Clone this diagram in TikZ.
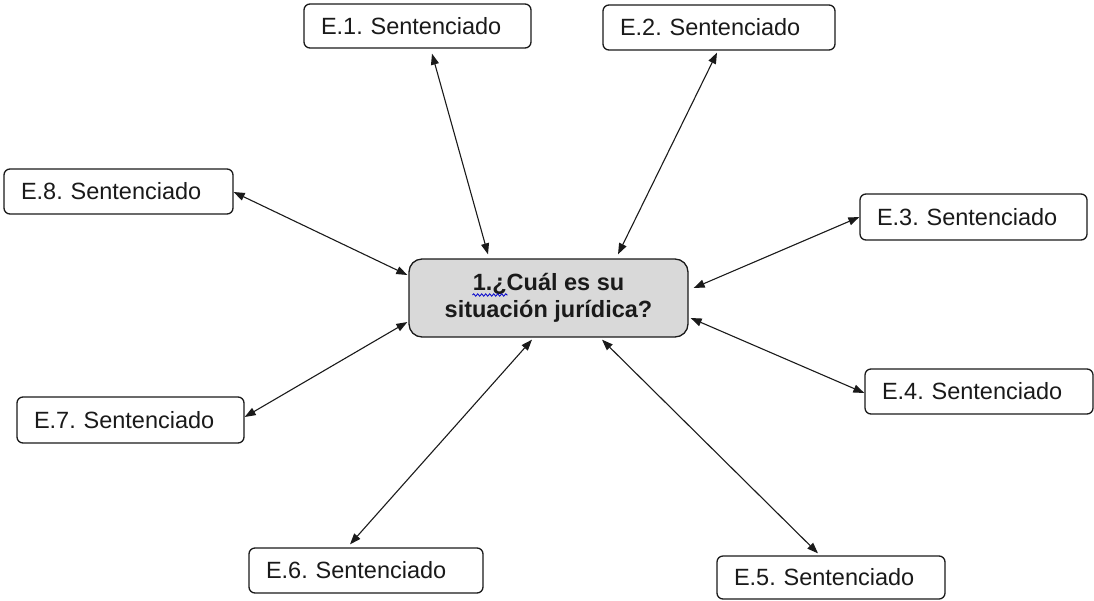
\documentclass[tikz,border=0pt]{standalone}
\usepackage{fontspec}
\setmainfont{Liberation Sans}
\frenchspacing
\usetikzlibrary{arrows.meta,calc,decorations.pathmorphing}
\definecolor{boxgrey}{HTML}{D9D9D9}
\definecolor{inkc}{HTML}{1A1A1A}
\tikzset{
  leaf/.style={draw=inkc, line width=1.3pt, rounded corners=6pt, fill=white,
    inner xsep=17pt, inner ysep=0pt, align=left, text=inkc,
    font=\fontsize{23.5}{27}\selectfont},
  hub/.style={draw=inkc, line width=1.3pt, rounded corners=13pt, fill=boxgrey,
    minimum width=279pt, minimum height=78pt, align=center, text=inkc,
    font=\fontsize{23.5}{27}\selectfont\bfseries},
  link/.style={draw=inkc, line width=1.1pt, {Triangle[length=11pt,width=8pt]}-{Triangle[length=11pt,width=8pt]}}
}
\begin{document}
\begin{tikzpicture}[x=1pt,y=-1pt]
\useasboundingbox (0,0) rectangle (1094,600);
\node[hub] (c) at (548.5,298) {1.¿Cuál es su\\situación jurídica?};
\node[leaf, text width=193pt, minimum height=44pt] (e1) at (417.5,26) {E.1. Sentenciado};
\node[leaf, text width=198pt, minimum height=45pt] (e2) at (719,27.5) {E.2. Sentenciado};
\node[leaf, text width=193pt, minimum height=46pt] (e3) at (973.5,217) {E.3. Sentenciado};
\node[leaf, text width=194pt, minimum height=45pt] (e4) at (979,391.5) {E.4. Sentenciado};
\node[leaf, text width=194pt, minimum height=43pt] (e5) at (831,577.5) {E.5. Sentenciado};
\node[leaf, text width=200pt, minimum height=45pt] (e6) at (366,570.5) {E.6. Sentenciado};
\node[leaf, text width=193pt, minimum height=46pt] (e7) at (130.5,420) {E.7. Sentenciado};
\node[leaf, text width=195pt, minimum height=45pt] (e8) at (118.5,191.5) {E.8. Sentenciado};
% wavy spell-check mark
\coordinate (w1) at ($(c.center)+(-76,-3)$);
\coordinate (w2) at ($(c.center)+(-41,-3)$);
\draw[blue!80!black, line width=0.8pt, decorate, decoration={snake, amplitude=1.2pt, segment length=4pt}] (w1) -- (w2);
% connectors
\coordinate (a1) at ($(e1.south)+(14.5,5)$);  \coordinate (b1) at ($(c.north)+(-60.5,-4)$);
\coordinate (a2) at ($(e2.south)+(-2,2)$);    \coordinate (b2) at ($(c.north)+(69.5,-4)$);
\coordinate (a3) at ($(e3.west)+(0,0)$);      \coordinate (b3) at ($(c.east)+(5,-10)$);
\coordinate (a4) at ($(e4.west)+(0,1.5)$);    \coordinate (b4) at ($(c.east)+(2,20)$);
\coordinate (a5) at ($(e5.north)+(-13,-2)$);  \coordinate (b5) at ($(c.south)+(53.5,2)$);
\coordinate (a6) at ($(e6.north)+(-16,-3)$);  \coordinate (b6) at ($(c.south)+(-16.5,2)$);
\coordinate (a7) at ($(e7.east)+(0,-3)$);     \coordinate (b7) at ($(c.west)+(-1,24)$);
\coordinate (a8) at ($(e8.east)+(0,0.5)$);    \coordinate (b8) at ($(c.west)+(-1,-23)$);
\foreach \i in {1,...,8} {\draw[link] (a\i) -- (b\i);}
\end{tikzpicture}
\end{document}
